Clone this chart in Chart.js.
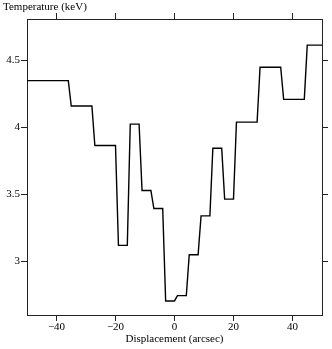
<!DOCTYPE html>
<html>
<head>
<meta charset="UTF-8">
<title>Temperature profile</title>
<script src="https://cdn.jsdelivr.net/npm/chart.js"></script>
<style>
  html, body { margin: 0; padding: 0; background: #fff; }
  #wrap { width: 332px; height: 349px; position: relative; }
</style>
</head>
<body>
<div id="wrap"><canvas id="myChart"></canvas></div>
<script>
// displacement (arcsec) and temperature (keV) along the profile
const displacement = [-50, -36, -35, -28, -27, -20, -19, -16, -15, -12, -11, -8, -7, -4, -3, 0,
                      1, 4, 5, 8, 9, 12, 13, 16, 17, 20, 21, 28, 29, 36, 37, 44, 45, 50];
const temperature = [4.35, 4.35, 4.16, 4.16, 3.865, 3.865, 3.12, 3.12, 4.025, 4.025, 3.53, 3.53, 3.395, 3.395, 2.705, 2.705,
                     2.745, 2.745, 3.05, 3.05, 3.34, 3.34, 3.845, 3.845, 3.465, 3.465, 4.04, 4.04, 4.45, 4.45, 4.21, 4.21, 4.615, 4.615];
const xTicks = [-40, -20, 0, 20, 40];
const yTicks = [3, 3.5, 4, 4.5];

const axisColor = '#222';
const serif = "'Liberation Serif', 'DejaVu Serif', serif";

function fixTicks(list) {
    return function (scale) {
        scale.ticks = list.map(v => ({ value: v }));
    };
}
function fixSize(w, h) {
    return function (scale) {
        if (w !== null) scale.width = w;
        if (h !== null) scale.height = h;
    };
}
function minus(v) {
    return String(v).replace('-', '\u2212');
}

// y axis title drawn top-left, like the original
const topLabel = {
    id: 'topLabel',
    afterDraw(chart) {
        const ctx = chart.ctx;
        ctx.save();
        ctx.fillStyle = '#000';
        ctx.font = '11px ' + serif;
        ctx.textAlign = 'left';
        ctx.textBaseline = 'middle';
        ctx.fillText('Temperature (keV)', 3, 7);
        ctx.restore();
    }
};

const pts = displacement.map((x, i) => ({ x: x, y: temperature[i] }));

new Chart(document.getElementById('myChart'), {
    type: 'line',
    data: {
        datasets: [{
            data: pts,
            borderColor: '#000',
            borderWidth: 1.4,
            pointRadius: 0,
            tension: 0,
            fill: false
        }]
    },
    options: {
        responsive: true,
        maintainAspectRatio: false,
        animation: false,
        layout: { padding: 0 },
        plugins: { legend: { display: false }, tooltip: { enabled: false } },
        scales: {
            x: {
                type: 'linear', position: 'bottom', min: -50, max: 50,
                afterBuildTicks: fixTicks(xTicks),
                afterFit: fixSize(null, 34),
                grid: { drawOnChartArea: false, drawTicks: true, tickLength: 6, color: axisColor },
                border: { display: true, color: axisColor, width: 1 },
                ticks: { color: '#000', padding: 0, maxRotation: 0, font: { family: serif, size: 11 }, callback: v => minus(v) },
                title: { display: true, text: 'Displacement (arcsec)', color: '#000', padding: { top: 0, bottom: 3 }, font: { family: serif, size: 11 } }
            },
            x2: {
                type: 'linear', position: 'top', min: -50, max: 50,
                afterBuildTicks: fixTicks(xTicks),
                afterFit: fixSize(null, 19),
                grid: { drawOnChartArea: false, drawTicks: true, tickLength: 6, color: axisColor },
                border: { display: true, color: axisColor, width: 1 },
                ticks: { display: false }
            },
            y: {
                type: 'linear', position: 'left', min: 2.6, max: 4.81,
                afterBuildTicks: fixTicks(yTicks),
                afterFit: fixSize(27, null),
                grid: { drawOnChartArea: false, drawTicks: true, tickLength: 6, color: axisColor },
                border: { display: true, color: axisColor, width: 1 },
                ticks: { color: '#000', padding: 1, font: { family: serif, size: 11 }, callback: v => String(v) }
            },
            y2: {
                type: 'linear', position: 'right', min: 2.6, max: 4.81,
                afterBuildTicks: fixTicks(yTicks),
                afterFit: fixSize(10, null),
                grid: { drawOnChartArea: false, drawTicks: true, tickLength: 6, color: axisColor },
                border: { display: true, color: axisColor, width: 1 },
                ticks: { display: false }
            }
        }
    },
    plugins: [topLabel]
});
</script>
</body>
</html>
